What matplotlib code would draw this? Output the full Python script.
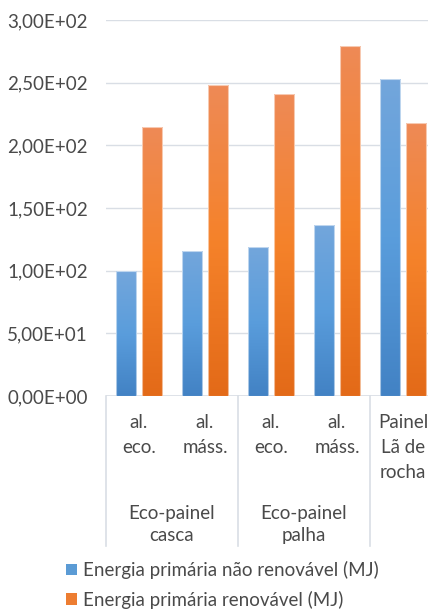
import numpy as np
import matplotlib
matplotlib.use("Agg")
import matplotlib.pyplot as plt
from matplotlib.colors import LinearSegmentedColormap
from matplotlib.patches import Patch

# Data
sub_labels = ["al.\neco.", "al.\nmáss.", "al.\neco.", "al.\nmáss.", "Painel\nLã de\nrocha"]
group_labels = ["Eco-painel\ncasca", "Eco-painel\npalha", ""]
group_sizes = [2, 2, 1]
nao_renovavel = [99.5, 116.0, 119.0, 136.5, 253.0]
renovavel = [215.0, 248.0, 241.0, 279.0, 217.5]
series_names = ["Energia primária não renovável (MJ)", "Energia primária renovável (MJ)"]
y_ticks = [0, 50, 100, 150, 200, 250, 300]

TEXT = "#4a4a4a"
GRID = "#d9dee5"
plt.rcParams["font.family"] = ["Lato", "DejaVu Sans"]
FS = 13.5

W, H = 428, 610
fig = plt.figure(figsize=(W / 100, H / 100), dpi=100)
ax_h_px = 376.0
ax = fig.add_axes([106 / W, (H - 396) / H, 330 / W, ax_h_px / H])

x = np.arange(len(sub_labels))
bw = 0.305
off = 0.193

blue_cmap = LinearSegmentedColormap.from_list(
    "b", [(0, "#4282c4"), (0.5, "#5a9ddc"), (1, "#73a6db")])
orange_cmap = LinearSegmentedColormap.from_list(
    "o", [(0, "#e36a18"), (0.5, "#f5822a"), (1, "#ee8a56")])
grad = np.linspace(0, 1, 256).reshape(-1, 1)

for vals, dx, cmap in [(nao_renovavel, -off, blue_cmap),
                       (renovavel, off, orange_cmap)]:
    bars = ax.bar(x + dx, vals, width=bw, facecolor="none",
                  edgecolor=(1, 1, 1, 0.55), linewidth=0.8, zorder=3)
    for b in bars:
        x0, y0 = b.get_x(), b.get_y()
        im = ax.imshow(grad, cmap=cmap, origin="lower", aspect="auto",
                       extent=(x0, x0 + b.get_width(), y0, y0 + b.get_height()),
                       zorder=2, interpolation="bilinear")
        im.set_clip_path(b)

ax.set_xlim(-0.5, len(sub_labels) - 0.5)
ax.set_ylim(y_ticks[0], y_ticks[-1])
ax.set_yticks(y_ticks)
ax.set_yticklabels([f"{v:.2E}".replace(".", ",") for v in y_ticks],
                   fontsize=FS, color=TEXT)
ax.tick_params(axis="y", length=0, pad=13)
ax.set_xticks([])
for s in ax.spines.values():
    s.set_visible(False)
ax.yaxis.grid(True, color=GRID, linewidth=1.0, zorder=0)
ax.set_axisbelow(True)
ax.axhline(0, color=GRID, linewidth=1.2, zorder=1)

trans = ax.get_xaxis_transform()


def below(px):
    return -px / ax_h_px


# first-level category labels
for i, lab in enumerate(sub_labels):
    for j, line in enumerate(lab.split("\n")):
        ax.text(x[i], below(27 + 24.5 * j), line, transform=trans, ha="center",
                va="center", fontsize=FS, color=TEXT, clip_on=False)

# second-level group labels and separators
start = 0
bounds = [-0.5]
for lab, n in zip(group_labels, group_sizes):
    center = start + (n - 1) / 2
    for j, line in enumerate(lab.split("\n")):
        if line:
            ax.text(center, below(117.5 + 22 * j), line, transform=trans,
                    ha="center", va="center", fontsize=FS, color=TEXT,
                    clip_on=False)
    start += n
    bounds.append(start - 0.5)
for bx in bounds:
    ax.plot([bx, bx], [0, below(150)], transform=trans, color=GRID,
            linewidth=1.2, clip_on=False)

handles = [Patch(facecolor="#5b9bd5", edgecolor="none"),
           Patch(facecolor="#ed7d31", edgecolor="none")]
fig.legend(handles, series_names, loc="upper left",
           bbox_to_anchor=(66 / W, 1 - 561 / H), frameon=False, fontsize=FS,
           labelcolor=TEXT, handlelength=0.6, handleheight=0.6,
           handletextpad=0.32, labelspacing=0.62, borderpad=0,
           borderaxespad=0)

fig.savefig("out.png", dpi=100, facecolor="white")
